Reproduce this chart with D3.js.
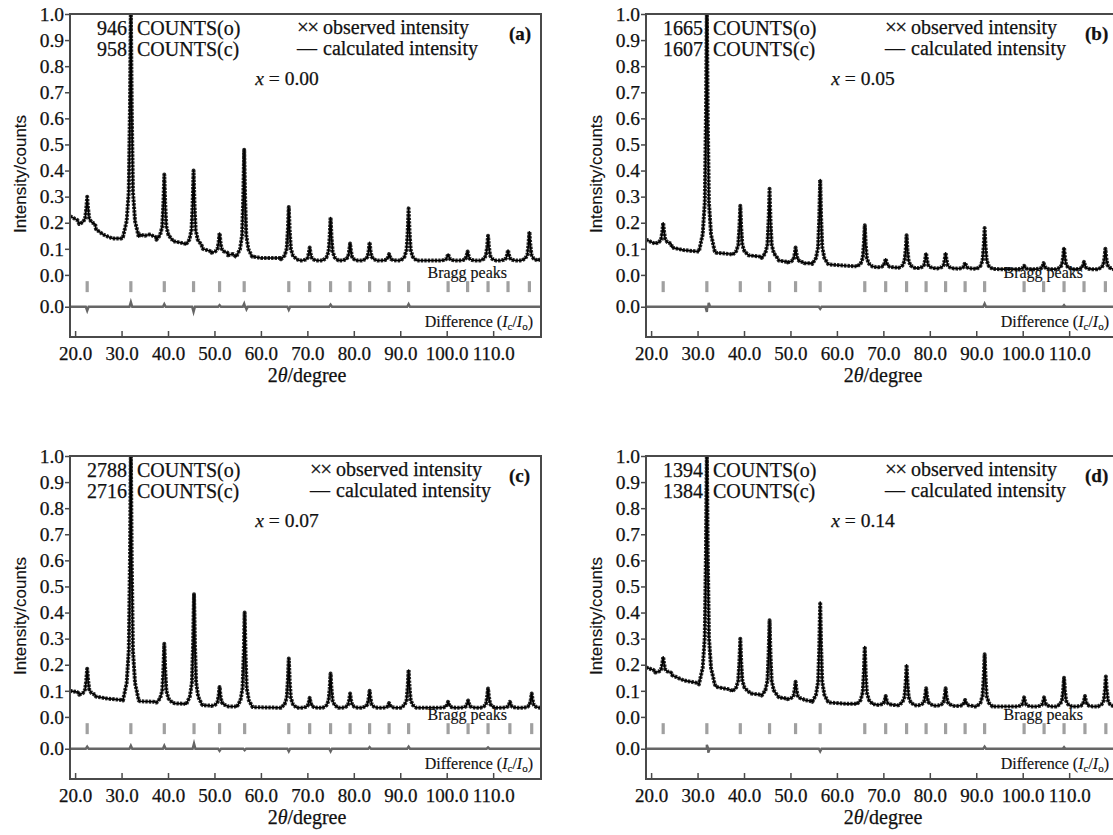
<!DOCTYPE html>
<html>
<head>
<meta charset="utf-8">
<script src="https://cdn.jsdelivr.net/npm/d3@7"></script>
<style>
body { margin: 0; background: #fff; }
text { font-family: "Liberation Serif", "Times New Roman", serif; fill: #111; stroke: #111; stroke-width: 0.25px; }
</style>
</head>
<body>
<svg id="chart" width="1113" height="835"></svg>
<script>
// background levels [2theta, intensity]
var bgA = [[18.9,0.225],[20.5,0.21],[21.0,0.20],[24.5,0.175],[26,0.155],[28,0.14],[30,0.14],[34,0.155],[35,0.15],[36,0.155],[37.4,0.145],[41,0.13],[43.6,0.12],[47.5,0.1],[49.3,0.09],[52.9,0.075],[54,0.08],[54.6,0.07],[58.3,0.07],[60,0.065],[64.2,0.065],[68.3,0.055],[72.9,0.055],[77.3,0.055],[81.5,0.055],[85.6,0.055],[89.8,0.055],[94,0.055],[98,0.055],[102.4,0.055],[106.7,0.055],[111,0.055],[115.5,0.055],[120.3,0.06]];
var bgB = [[18.9,0.135],[20.8,0.12],[24.5,0.105],[27,0.095],[30,0.09],[34,0.085],[37,0.08],[41,0.075],[43.6,0.07],[47.5,0.055],[49.3,0.05],[53,0.045],[54.6,0.045],[58.3,0.04],[62,0.035],[64.2,0.033],[68.3,0.03],[72.9,0.028],[77.3,0.026],[81.3,0.025],[85.6,0.025],[89.7,0.024],[95,0.022],[98,0.022],[102.4,0.022],[106.7,0.022],[111,0.022],[115.5,0.022],[120.3,0.022]];
var bgC = [[18.9,0.10],[20.5,0.095],[20.8,0.09],[24.5,0.078],[27,0.07],[30,0.065],[34,0.06],[37,0.058],[41.5,0.052],[43.7,0.05],[47.5,0.045],[49.3,0.043],[53,0.04],[54.6,0.04],[58.5,0.037],[62,0.036],[64.2,0.035],[68.3,0.035],[72.9,0.035],[77.3,0.035],[81.3,0.035],[85.6,0.035],[89.7,0.035],[95,0.035],[98,0.035],[102.4,0.035],[106.7,0.035],[111,0.035],[116,0.035],[120.3,0.035]];
var bgD = [[18.9,0.19],[20.5,0.18],[20.8,0.175],[24.5,0.16],[27,0.14],[30,0.13],[34,0.115],[37,0.105],[41.5,0.09],[43.6,0.085],[47.5,0.075],[49.3,0.07],[53,0.065],[54.6,0.06],[58.5,0.055],[62,0.05],[64.2,0.05],[68.3,0.048],[72.9,0.045],[77.3,0.044],[81.3,0.043],[85.6,0.042],[89.7,0.04],[95,0.04],[98,0.04],[102.4,0.04],[106.7,0.04],[111,0.04],[116,0.04],[120.3,0.04]];

// reflections [2theta, peak top, peak base]
var pkA = [[22.6,0.30,0.195],[32.0,1.02,0.145],[39.2,0.385,0.135],[45.5,0.40,0.115],[51.1,0.16,0.085],[56.4,0.48,0.07],[66.0,0.26,0.06],[70.5,0.105,0.055],[75.0,0.22,0.055],[79.2,0.12,0.055],[83.4,0.125,0.055],[87.6,0.08,0.055],[91.8,0.255,0.055],[100.3,0.08,0.055],[104.5,0.09,0.055],[108.9,0.15,0.055],[113.2,0.095,0.055],[117.8,0.165,0.055]];
var pkB = [[22.6,0.20,0.12],[32.0,1.02,0.09],[39.2,0.265,0.077],[45.5,0.33,0.065],[51.1,0.105,0.048],[56.4,0.365,0.042],[66.0,0.19,0.032],[70.5,0.062,0.029],[75.0,0.152,0.027],[79.2,0.084,0.026],[83.4,0.085,0.025],[87.6,0.047,0.024],[91.8,0.18,0.023],[100.3,0.035,0.022],[104.5,0.045,0.022],[108.9,0.105,0.022],[113.2,0.05,0.022],[117.8,0.10,0.022]];
var pkC = [[22.6,0.185,0.085],[32.0,1.02,0.063],[39.2,0.28,0.055],[45.6,0.47,0.048],[51.1,0.115,0.042],[56.5,0.40,0.038],[66.0,0.224,0.035],[70.5,0.073,0.035],[75.0,0.166,0.035],[79.2,0.09,0.035],[83.4,0.10,0.035],[87.6,0.053,0.035],[91.8,0.18,0.035],[100.3,0.058,0.035],[104.6,0.063,0.035],[108.9,0.109,0.035],[113.6,0.058,0.035],[118.3,0.09,0.035]];
var pkD = [[22.6,0.23,0.17],[32.0,1.02,0.125],[39.2,0.30,0.098],[45.5,0.37,0.082],[51.1,0.135,0.068],[56.4,0.44,0.058],[66.0,0.27,0.049],[70.5,0.08,0.046],[75.0,0.20,0.045],[79.2,0.11,0.044],[83.4,0.11,0.043],[87.6,0.065,0.042],[91.8,0.24,0.04],[100.3,0.075,0.04],[104.6,0.075,0.04],[108.9,0.15,0.04],[113.4,0.08,0.04],[117.9,0.155,0.04]];

// difference curve spikes [2theta, Ic - Io]
var diffA = [[22.6,-0.015],[32.0,0.018],[39.2,0.01],[45.5,-0.02],[51.1,0.006],[56.4,0.012],[56.9,-0.01],[66.0,-0.012],[75.0,0.008],[91.8,0.01]];
var diffB = [[32.0,-0.02],[32.4,0.015],[56.4,-0.008],[91.8,0.012],[108.9,0.006]];
var diffC = [[22.6,0.008],[32.0,0.012],[39.2,0.012],[45.6,0.02],[51.1,-0.008],[56.5,-0.006],[66.0,-0.01],[75.0,-0.01],[83.4,0.006],[91.8,0.008],[108.9,0.005]];
var diffD = [[32.0,0.015],[32.3,-0.015],[56.4,-0.01],[91.8,0.008],[108.9,0.006]];

var countsObs = ["946", "1665", "2788", "1394"];
var countsCalc = ["958", "1607", "2716", "1384"];
var xValues = ["0.00", "0.05", "0.07", "0.14"];
var panelLabels = ["(a)", "(b)", "(c)", "(d)"];

var xTicks = [20, 30, 40, 50, 60, 70, 80, 90, 100, 110];
var yTicks = [0, 0.1, 0.2, 0.3, 0.4, 0.5, 0.6, 0.7, 0.8, 0.9, 1.0];

var panels = [
    {left: 70, top: 14, bg: bgA, pk: pkA, diff: diffA, legendDx: 227},
    {left: 646, top: 14, bg: bgB, pk: pkB, diff: diffB, legendDx: 239},
    {left: 70, top: 456, bg: bgC, pk: pkC, diff: diffC, legendDx: 240},
    {left: 646, top: 456, bg: bgD, pk: pkD, diff: diffD, legendDx: 239}
];

var W = 471, H = 323;
var diffLevel = -0.122;

var x = d3.scaleLinear().domain([18.9, 120.3]).range([0, W]);
var y = d3.scaleLinear().domain([-0.238, 1.0]).range([H, 0]);

// profile of one reflection: [offset in degrees, fraction of height]
var peakShape = [[-1.7, 0], [-0.9, 0.07], [-0.45, 0.2], [-0.2, 0.55], [0, 1], [0.2, 0.55], [0.45, 0.2], [0.9, 0.07], [1.7, 0]];

function profile(bg, pk) {
    var pts = bg.filter(function (b) {
        return pk.every(function (p) { return Math.abs(b[0] - p[0]) > 1.7; });
    });
    pk.forEach(function (p) {
        peakShape.forEach(function (s) {
            pts.push([p[0] + s[0], p[2] + s[1] * (p[1] - p[2])]);
        });
    });
    return pts.sort(function (a, b) { return a[0] - b[0]; });
}

function diffProfile(diff) {
    var pts = [[18.9, 0], [120.3, 0]];
    diff.forEach(function (d) {
        pts.push([d[0] - 0.3, 0], [d[0], d[1]], [d[0] + 0.3, 0]);
    });
    return pts.sort(function (a, b) { return a[0] - b[0]; });
}

var line = d3.line()
    .x(function (d) { return x(d[0]); })
    .y(function (d) { return y(d[1]); });

var diffLine = d3.line()
    .x(function (d) { return x(d[0]); })
    .y(function (d) { return y(diffLevel + d[1]); });

var svg = d3.select("#chart");
svg.append("rect").attr("width", 1113).attr("height", 835).attr("fill", "#fff");

panels.forEach(function (p, i) {
    var g = svg.append("g").attr("transform", "translate(" + p.left + "," + p.top + ")");

    g.append("clipPath").attr("id", "clip-" + i)
        .append("rect").attr("width", W).attr("height", H);

    var plot = g.append("g").attr("clip-path", "url(#clip-" + i + ")");
    var pts = profile(p.bg, p.pk);

    // observed (crosses) drawn as textured thick stroke, calculated as thin line
    plot.append("path")
        .attr("d", line(pts))
        .attr("fill", "none")
        .attr("stroke", "#2a2a2a")
        .attr("stroke-width", 4)
        .attr("stroke-dasharray", "2.4,1.1")
        .attr("stroke-linejoin", "round");
    plot.append("path")
        .attr("d", line(pts))
        .attr("fill", "none")
        .attr("stroke", "#000")
        .attr("stroke-width", 1.6)
        .attr("stroke-linejoin", "round");

    // Bragg reflection markers
    plot.selectAll(".bragg")
        .data(p.pk)
        .enter()
        .append("rect")
        .attr("class", "bragg")
        .attr("x", function (d) { return x(d[0]) - 1.6; })
        .attr("y", y(-0.024))
        .attr("width", 3.2)
        .attr("height", y(-0.066) - y(-0.024))
        .attr("fill", "#a0a0a0");

    plot.append("path")
        .attr("d", diffLine(diffProfile(p.diff)))
        .attr("fill", "none")
        .attr("stroke", "#666")
        .attr("stroke-width", 2.4);

    // frame
    g.append("rect")
        .attr("width", W).attr("height", H)
        .attr("fill", "none")
        .attr("stroke", "#4a4a4a")
        .attr("stroke-width", 2);

    var yAxis = d3.axisLeft(y)
        .tickValues(yTicks.concat([diffLevel]))
        .tickFormat(function (d) { return d < 0 ? "0.0" : d3.format(".1f")(d); })
        .tickSize(5)
        .tickPadding(1);
    var ya = g.append("g").call(yAxis);
    ya.select(".domain").remove();
    ya.selectAll("line").attr("stroke", "#4a4a4a").attr("stroke-width", 1.5);
    ya.selectAll("text")
        .attr("fill", "#111")
        .style("font-family", "Liberation Serif")
        .style("font-size", "19.5px");

    var xAxis = d3.axisBottom(x)
        .tickValues(xTicks)
        .tickFormat(d3.format(".1f"))
        .tickSizeInner(-6)
        .tickSizeOuter(0)
        .tickPadding(10);
    var xa = g.append("g").attr("transform", "translate(0," + H + ")").call(xAxis);
    xa.select(".domain").remove();
    xa.selectAll("line").attr("stroke", "#4a4a4a").attr("stroke-width", 1.5);
    xa.selectAll("text")
        .attr("fill", "#111")
        .style("font-family", "Liberation Serif")
        .style("font-size", "19px");

    // axis titles
    g.append("text")
        .attr("transform", "translate(-50," + 160 + ") rotate(-90)")
        .attr("text-anchor", "middle")
        .attr("dy", "0.35em")
        .style("font-family", "Liberation Sans, Arial, sans-serif")
        .style("font-size", "17px")
        .style("stroke-width", "0.15px")
        .text("Intensity/counts");

    var xt = g.append("text")
        .attr("x", 237).attr("y", 368)
        .attr("text-anchor", "middle")
        .style("font-size", "20px");
    xt.append("tspan").text("2");
    xt.append("tspan").style("font-style", "italic").text("θ");
    xt.append("tspan").text("/degree");

    // counts annotation
    g.append("text").attr("x", 57).attr("y", 21).attr("text-anchor", "end")
        .style("font-size", "20px").text(countsObs[i]);
    g.append("text").attr("x", 57).attr("y", 42).attr("text-anchor", "end")
        .style("font-size", "20px").text(countsCalc[i]);
    g.append("text").attr("x", 67).attr("y", 21)
        .style("font-size", "20px").text("COUNTS(o)");
    g.append("text").attr("x", 67).attr("y", 42)
        .style("font-size", "20px").text("COUNTS(c)");

    // legend
    g.append("text").attr("x", p.legendDx).attr("y", 20)
        .style("font-size", "21px").style("letter-spacing", "-1.5px").text("××");
    g.append("text").attr("x", p.legendDx).attr("y", 41)
        .style("font-size", "20px").text("—");
    g.append("text").attr("x", p.legendDx + 26).attr("y", 20)
        .style("font-size", "20px").text("observed intensity");
    g.append("text").attr("x", p.legendDx + 26).attr("y", 41)
        .style("font-size", "20px").text("calculated intensity");

    g.append("text").attr("x", 439).attr("y", 26)
        .style("font-size", "19px").style("font-weight", "bold")
        .text(panelLabels[i]);

    var xv = g.append("text").attr("x", 217).attr("y", 71)
        .attr("text-anchor", "middle").style("font-size", "19.5px");
    xv.append("tspan").style("font-style", "italic").text("x");
    xv.append("tspan").text(" = " + xValues[i]);

    g.append("text").attr("x", 437).attr("y", 264)
        .attr("text-anchor", "end").style("font-size", "16px")
        .style("stroke-width", "0.15px")
        .text("Bragg peaks");

    var dt = g.append("text").attr("x", 463).attr("y", 313)
        .attr("text-anchor", "end").style("font-size", "16px")
        .style("stroke-width", "0.15px");
    dt.append("tspan").text("Difference (");
    dt.append("tspan").style("font-style", "italic").text("I");
    dt.append("tspan").attr("dy", 3).style("font-size", "11px").text("c");
    dt.append("tspan").attr("dy", -3).text("/");
    dt.append("tspan").style("font-style", "italic").text("I");
    dt.append("tspan").attr("dy", 3).style("font-size", "11px").text("o");
    dt.append("tspan").attr("dy", -3).text(")");
});
</script>
</body>
</html>
